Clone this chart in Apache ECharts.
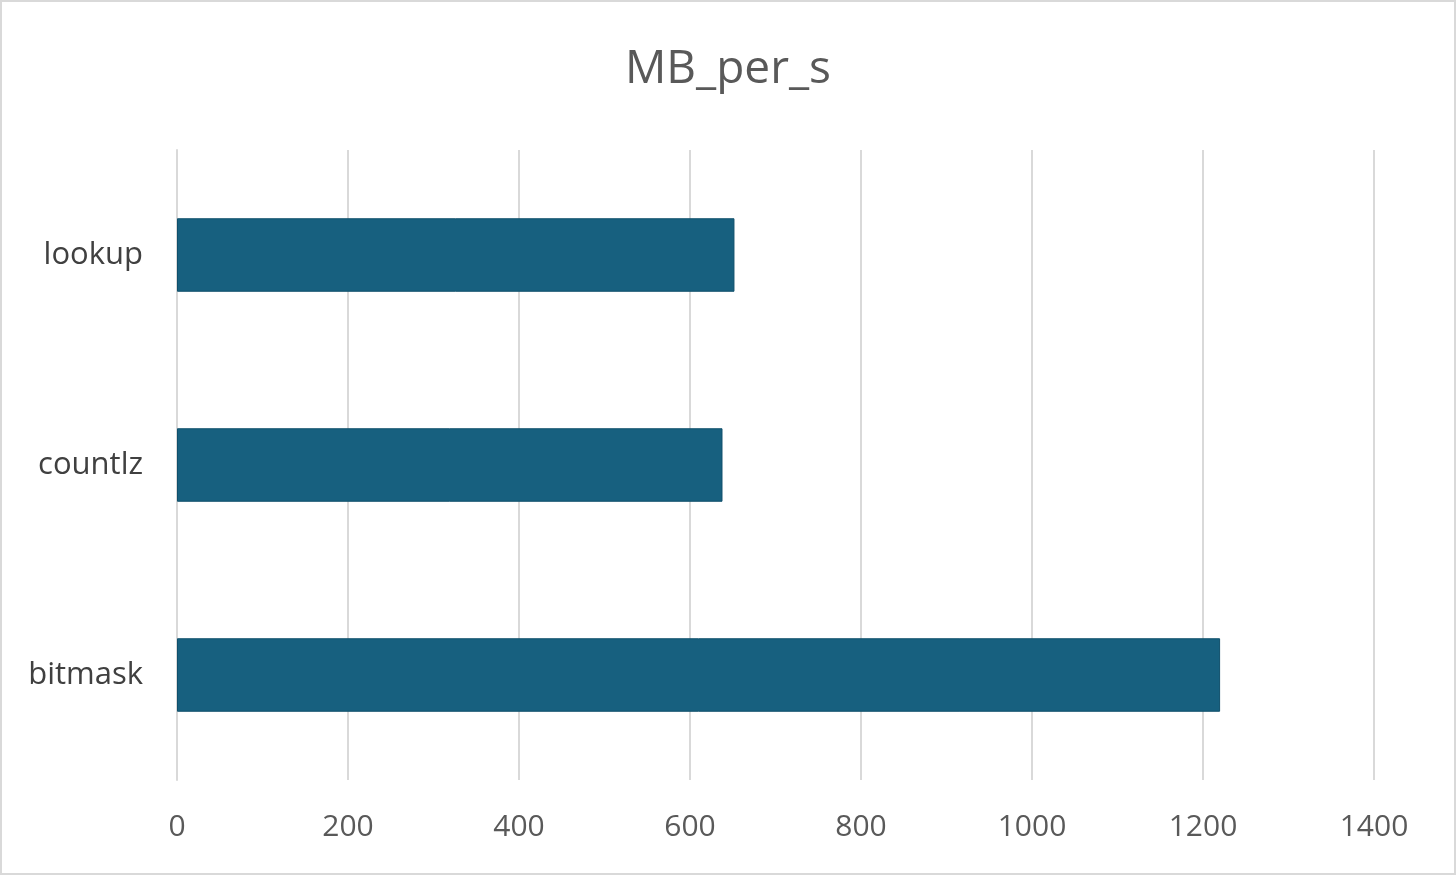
<!DOCTYPE html>
<html>
<head>
<meta charset="utf-8">
<script src="https://cdn.jsdelivr.net/npm/echarts@6/dist/echarts.min.js"></script>
<style>
html,body{margin:0;padding:0;background:#fff;}
#c{width:1456px;height:875px;position:relative;}
#b{position:absolute;left:0;top:0;width:1456px;height:875px;box-sizing:border-box;border:2px solid #d9d9d9;pointer-events:none;}
</style>
</head>
<body>
<div id="c"></div>
<div id="b"></div>
<script>
const categories = ['lookup', 'countlz', 'bitmask'];
const mbPerS = [652, 638, 1220];
const xTicks = { min: 0, max: 1400, interval: 200 };

const chart = echarts.init(document.getElementById('c'));
chart.setOption({
  backgroundColor: '#ffffff',
  animation: false,
  title: {
    text: 'MB_per_s',
    left: 'center',
    top: 42,
    textStyle: { fontFamily: 'Open Sans', fontSize: 46, fontWeight: 'normal', color: '#595959' }
  },
  grid: { left: 177, right: 82, top: 150, bottom: 95, containLabel: false },
  xAxis: {
    type: 'value',
    min: xTicks.min, max: xTicks.max, interval: xTicks.interval,
    axisLine: { show: false },
    axisTick: { show: false },
    splitLine: { show: true, lineStyle: { color: '#d9d9d9', width: 2 } },
    axisLabel: { fontFamily: 'Open Sans', fontSize: 30, color: '#595959', margin: 32, formatter: function (v) { return String(v); } }
  },
  yAxis: {
    type: 'category',
    data: categories,
    inverse: true,
    axisLine: { show: true, lineStyle: { color: '#d9d9d9', width: 2 } },
    axisTick: { show: false },
    axisLabel: { fontFamily: 'Open Sans', fontSize: 31, color: '#404040', margin: 34, padding: [6, 0, 0, 0] }
  },
  series: [{
    type: 'bar',
    data: mbPerS,
    barCategoryGap: '65%',
    itemStyle: { color: '#17607f', borderColor: '#0f4f6b', borderWidth: 1 }
  }]
});
</script>
</body>
</html>
